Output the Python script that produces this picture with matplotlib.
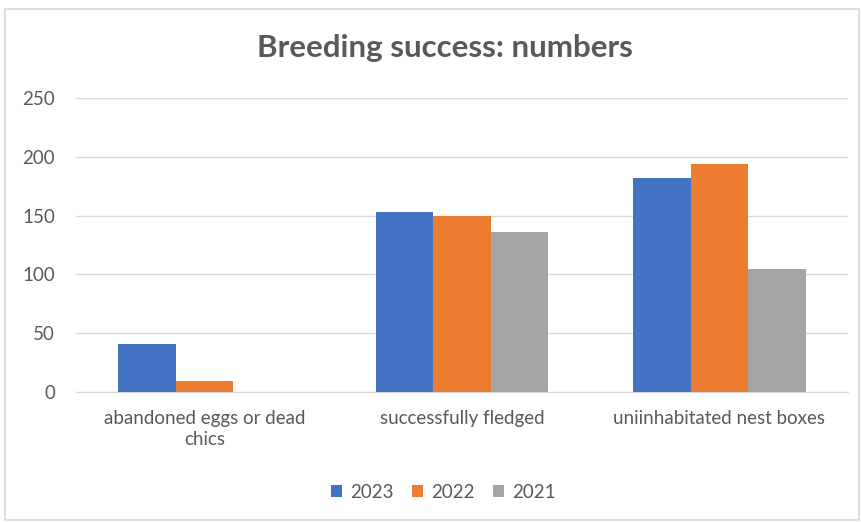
import numpy as np
import matplotlib
matplotlib.use("Agg")
import matplotlib.pyplot as plt
from matplotlib.patches import Rectangle

categories = ["abandoned eggs or dead\nchics", "successfully fledged", "uniinhabitated nest boxes"]
years = ["2023", "2022", "2021"]
values_2023 = [41, 153, 182]
values_2022 = [9, 150, 194]
values_2021 = [0, 136, 105]
colors = ["#4472C4", "#ED7D31", "#A5A5A5"]

plt.rcParams["font.family"] = ["Lato", "DejaVu Sans"]
text_color = "#595959"

fig = plt.figure(figsize=(8.62, 5.22), dpi=100)
ax = fig.add_axes([0.088, 0.249, 0.896, 0.563])

# chart area border
fig.patches.append(Rectangle((0.006, 0.004), 0.99, 0.979, transform=fig.transFigure,
                             fill=False, edgecolor="#D9D9D9", linewidth=1.2))

x = np.arange(len(categories))
width = 0.223
series = [values_2023, values_2022, values_2021]
for i, (vals, year, col) in enumerate(zip(series, years, colors)):
    ax.bar(x + (i - 1) * width, vals, width, color=col, label=year, zorder=3)

ax.set_xlim(-0.5, 2.5)
ax.set_ylim(0, 250)
ax.set_yticks(range(0, 251, 50))
ax.yaxis.grid(True, color="#D9D9D9", linewidth=1)
ax.set_axisbelow(True)
for s in ["top", "right", "left"]:
    ax.spines[s].set_visible(False)
ax.spines["bottom"].set_color("#D9D9D9")
ax.tick_params(axis="both", length=0, colors=text_color, labelsize=13.5)
ax.tick_params(axis="y", pad=15)
ax.tick_params(axis="x", pad=13)
ax.set_xticks(x)
ax.set_xticklabels(categories, linespacing=1.3)

fig.text(0.516, 0.908, "Breeding success: numbers", ha="center", va="center",
         fontsize=22.5, fontweight="bold", color=text_color)

leg = fig.legend(loc="center", bbox_to_anchor=(0.514, 0.057), ncol=3, frameon=False,
                 fontsize=13.5, handlelength=0.6, handleheight=0.6, handletextpad=0.4,
                 columnspacing=1.0)
for t in leg.get_texts():
    t.set_color(text_color)

fig.savefig("out.png", dpi=100)
